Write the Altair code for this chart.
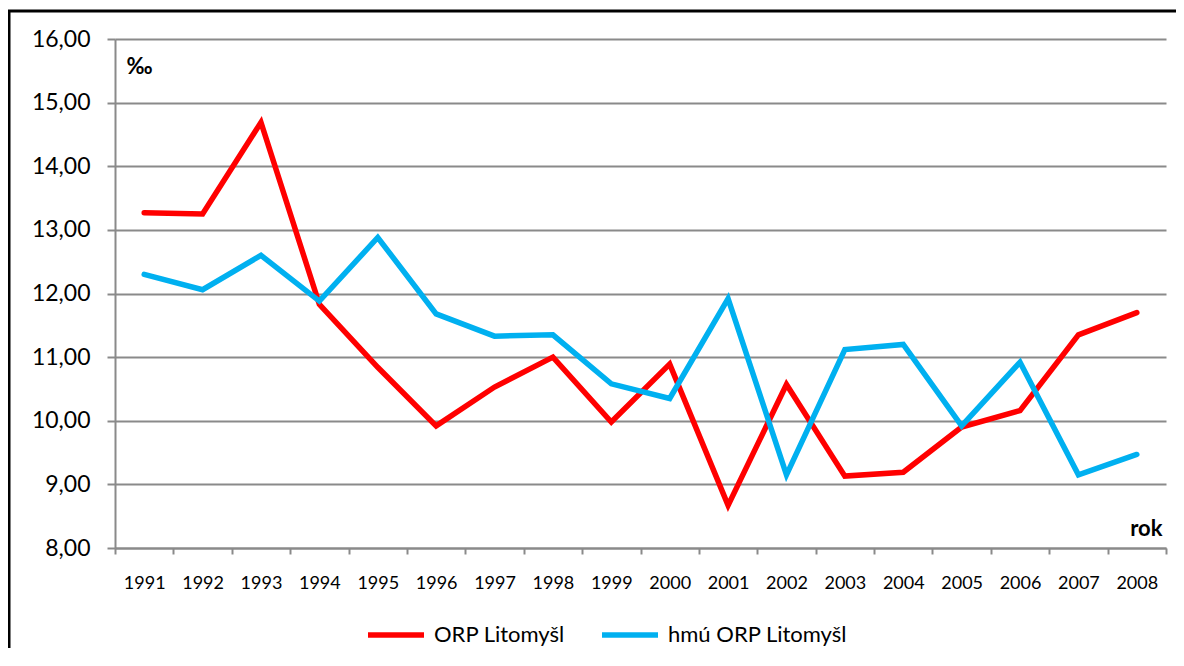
import altair as alt
import pandas as pd

years = [str(y) for y in range(1991, 2009)]
orp = [13.27, 13.25, 14.69, 11.83, 10.84, 9.92, 10.53, 11.00, 9.98, 10.89,
       8.67, 10.57, 9.13, 9.19, 9.90, 10.16, 11.35, 11.70]
hmu = [12.30, 12.06, 12.60, 11.88, 12.88, 11.68, 11.33, 11.35, 10.58, 10.35,
       11.92, 9.15, 11.12, 11.20, 9.92, 10.92, 9.15, 9.47]
series_names = ["ORP Litomyšl", "hmú ORP Litomyšl"]
colors = ["#FF0000", "#00B0F0"]

rows = []
for name, vals in zip(series_names, [orp, hmu]):
    for y, v in zip(years, vals):
        rows.append({"rok": y, "value": v, "series": name})
df = pd.DataFrame(rows)

FONT = "Lato"
GRID = "#8a8a8a"
W, H = 1051, 509

lines = alt.Chart(df).mark_line(strokeWidth=5.5, strokeCap="round").encode(
    x=alt.X(
        "rok:O",
        scale=alt.Scale(type="band", paddingInner=0, paddingOuter=0),
        bandPosition=0.5,
        axis=alt.Axis(
            title="rok", titleX=W - 4, titleY=-13, titleAlign="right",
            titleBaseline="alphabetic", titleFontSize=22, titleFontWeight="bold",
            titleFont=FONT, titleColor="black",
            tickBand="extent", labelAngle=0, labelFontSize=18, labelFont=FONT,
            labelColor="black", labelPadding=20, tickSize=6, tickColor=GRID,
            tickWidth=2, domainColor=GRID, domainWidth=2, grid=False,
        ),
    ),
    y=alt.Y(
        "value:Q",
        scale=alt.Scale(domain=[8, 16], nice=False, zero=False),
        axis=alt.Axis(
            title="‰", titleAngle=0, titleX=11, titleY=34, titleAlign="left",
            titleBaseline="alphabetic", titleFontSize=22, titleFontWeight="bold",
            titleFont=FONT, titleColor="black",
            values=[8, 9, 10, 11, 12, 13, 14, 15, 16],
            labelExpr="replace(format(datum.value, '.2f'), '.', ',')",
            labelFontSize=23, labelFont=FONT, labelColor="black",
            labelPadding=17, tickSize=8, tickColor=GRID, tickWidth=2,
            domainColor=GRID, domainWidth=2, grid=True, gridColor=GRID,
            gridWidth=2,
        ),
    ),
    color=alt.Color(
        "series:N",
        scale=alt.Scale(domain=series_names, range=colors),
        legend=alt.Legend(
            title=None, orient="none", legendX=250, legendY=565,
            direction="horizontal", symbolType="stroke", symbolSize=3136,
            symbolStrokeWidth=5.5, labelFontSize=22, labelFont=FONT,
            labelColor="black", labelOffset=7, columnPadding=26,
            labelLimit=500,
        ),
    ),
)

frame_data = alt.Data(values=[{"a": 1}])
left_border = alt.Chart(frame_data).mark_rule(color="black", strokeWidth=3).encode(
    x=alt.value(-106), y=alt.value(-28), y2=alt.value(H + 100)
)
top_border = alt.Chart(frame_data).mark_rule(color="black", strokeWidth=3).encode(
    x=alt.value(-107), x2=alt.value(W + 10), y=alt.value(-28)
)

chart = alt.layer(lines, left_border, top_border).properties(
    width=W, height=H,
    autosize=alt.AutoSizeParams(type="none"),
    padding={"left": 107, "top": 31, "right": 10, "bottom": 100},
    background="white",
).configure_view(stroke=None)

chart.save("out.html", embed_options={"renderer": "svg", "actions": False})
